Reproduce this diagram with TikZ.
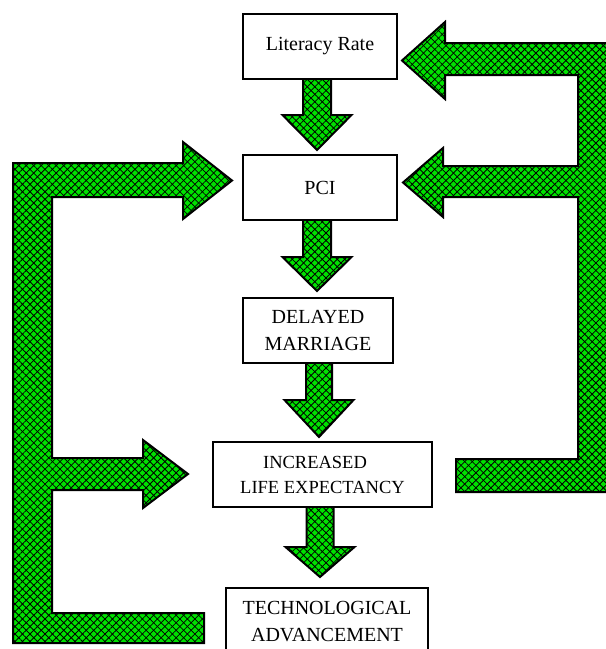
\documentclass[tikz,border=0pt]{standalone}
\usepackage{fontspec}
\setmainfont{Liberation Serif}
\usetikzlibrary{patterns.meta}
\definecolor{agreen}{RGB}{0,225,0}
\tikzset{
  fat/.style={draw=black, line width=2pt, line join=miter,
    preaction={fill=agreen},
    preaction={pattern={Lines[angle=45,distance=5.3pt,line width=0.8pt]}, pattern color=black},
    pattern={Lines[angle=-45,distance=5.3pt,line width=0.8pt]}, pattern color=black},
  box/.style={draw=black, line width=2pt, fill=white, inner sep=0pt, align=center,
    font=\fontsize{20}{27}\selectfont},
}
\newcommand\fatdown[5]{% cx, ytop, ybase, ytip, halfshaft
  \path[fat] (#1-#5,#2) -- (#1+#5,#2) -- (#1+#5,#3) -- (#1+34.5,#3) -- (#1,#4)
    -- (#1-34.5,#3) -- (#1-#5,#3) -- cycle;}
\begin{document}
\begin{tikzpicture}[x=1pt,y=-1pt]
\useasboundingbox (0,0) rectangle (606,649);
\clip (0,0) rectangle (606,649);
\fill[white] (0,0) rectangle (606,649);

% down arrows
\fatdown{317}{78}{115}{150}{14}
\fatdown{317}{219}{257}{291}{14}
\fatdown{319}{362}{400}{437}{13}
\fatdown{320}{506}{547}{577}{13.5}

% left E-shaped feedback arrow
\path[fat] (13,163) -- (183,163) -- (183,142) -- (232,180.5) -- (183,219) -- (183,197)
  -- (52,197) -- (52,458) -- (143,458) -- (143,440) -- (188,474) -- (143,508)
  -- (143,490) -- (52,490) -- (52,613) -- (204,613) -- (204,643) -- (13,643) -- cycle;

% right feedback arrow
\path[fat] (625,43) -- (445,43) -- (445,22) -- (402,60.5) -- (445,99) -- (445,75)
  -- (578,75) -- (578,166) -- (443,166) -- (443,148) -- (403,182.5) -- (443,217)
  -- (443,197) -- (578,197) -- (578,459) -- (456,459) -- (456,492) -- (625,492) -- cycle;

% boxes
\node[box, minimum width=154pt, minimum height=65pt] (lit) at (320,46.5) {Literacy Rate};
\node[box, minimum width=154pt, minimum height=65pt] (pci) at (320,187.5) {PCI};
\node[box, minimum width=150pt, minimum height=65pt] (del) at (318,330.5) {DELAYED\\MARRIAGE};
\node[box, minimum width=219pt, minimum height=65pt, font=\fontsize{18.5}{25}\selectfont] (inc) at (322.5,474.5) {INCREASED\hspace*{15pt}\\LIFE EXPECTANCY};
\node[box, minimum width=202pt, minimum height=67pt] (tech) at (327,621.5) {TECHNOLOGICAL\\ADVANCEMENT};
\end{tikzpicture}
\end{document}
